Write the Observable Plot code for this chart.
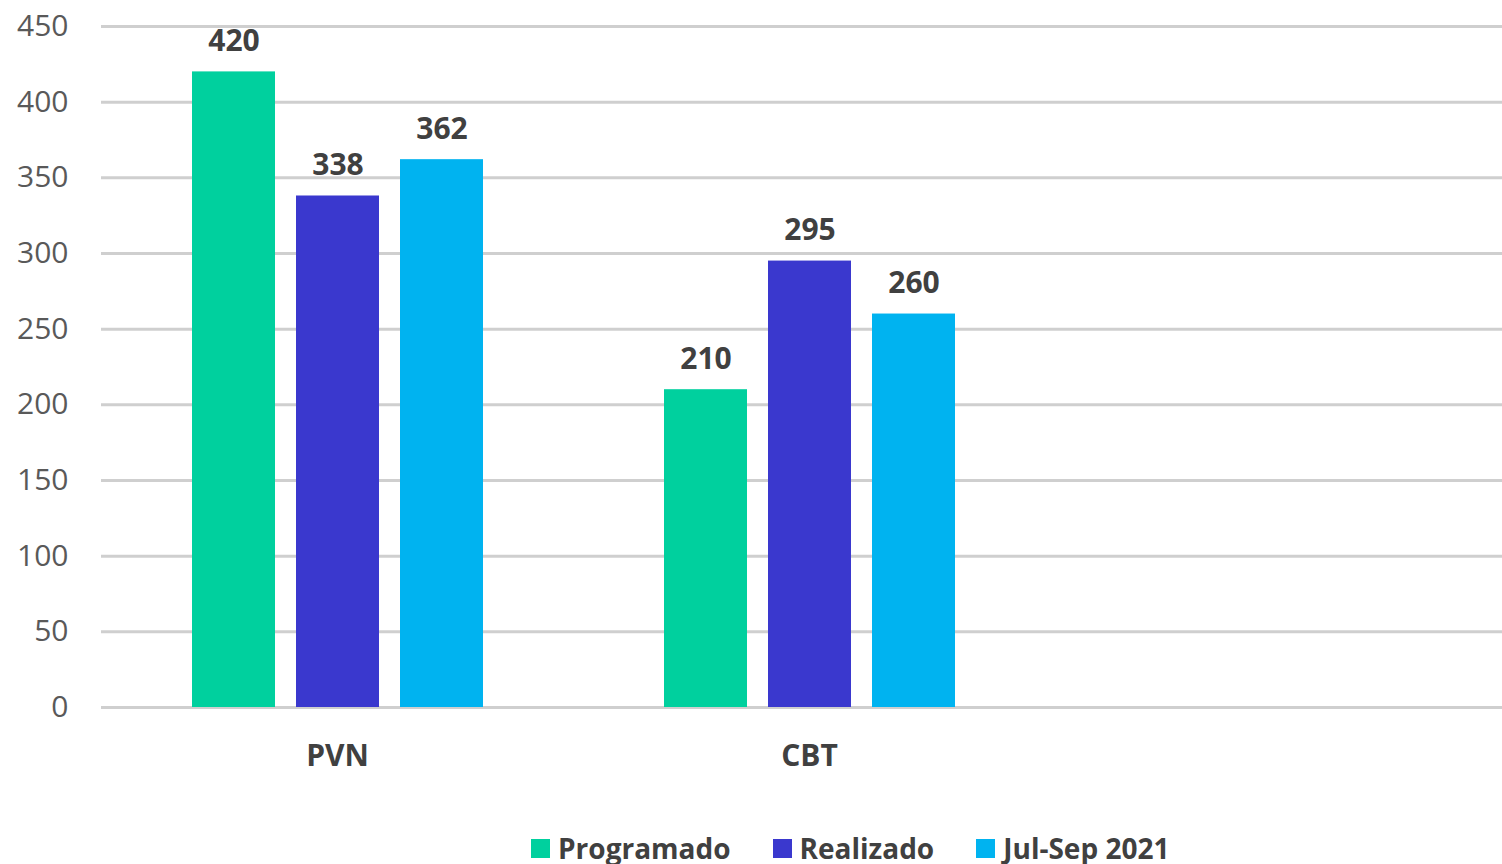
<!DOCTYPE html>
<html>
<head>
<meta charset="utf-8">
<script src="https://cdn.jsdelivr.net/npm/d3@7"></script>
<script src="https://cdn.jsdelivr.net/npm/@observablehq/plot@0.6"></script>
<style>
  html, body { margin: 0; padding: 0; background: #fff; overflow: hidden; width: 1502px; height: 864px; }
  #chart svg { overflow: hidden; }
  #legend { display: flex; align-items: center; margin-left: 531px; margin-top: 28px; font-family: "Open Sans", sans-serif; font-weight: bold; font-size: 28px; color: #404040; line-height: 40px; }
  #legend .item { display: flex; align-items: center; margin-right: 42px; }
  #legend .sw { width: 19px; height: 19px; margin-right: 8px; }
</style>
</head>
<body>
<div id="chart"></div>
<div id="legend"></div>
<script>
const categories = ["PVN", "CBT", " "];
const series = ["Programado", "Realizado", "Jul-Sep 2021"];
const programado = [420, 210];
const realizado = [338, 295];
const julSep2021 = [362, 260];
const colors = ["#00D09E", "#3A38CE", "#00B3F0"];
const yTicks = [0, 50, 100, 150, 200, 250, 300, 350, 400, 450];

const seriesValues = [programado, realizado, julSep2021];
const data = [];
series.forEach((s, si) => {
  seriesValues[si].forEach((v, ci) => data.push({cat: categories[ci], series: s, value: v}));
});
const gridData = [];
categories.forEach(c => yTicks.forEach(t => gridData.push({cat: c, y: t})));

const font = "'Open Sans', sans-serif";
const chart = Plot.plot({
  width: 1502,
  height: 800,
  marginTop: 26,
  marginBottom: 93,
  marginLeft: 101,
  marginRight: 0,
  style: {fontFamily: font, background: "#fff"},
  fx: {domain: categories, range: [101, 1517], paddingInner: 0, paddingOuter: 0, label: null},
  x: {domain: series, paddingInner: 0.206, paddingOuter: 0.861, axis: null},
  y: {domain: [0, 450], ticks: yTicks, label: null},
  color: {domain: series, range: colors},
  marks: [
    Plot.ruleY(gridData, {fx: "cat", y: "y", stroke: "#cfcfcf", strokeWidth: 3}),
    Plot.axisY(yTicks, {tickSize: 0, tickPadding: 33, fontSize: 30, fill: "#595959", label: null}),
    Plot.axisFx({anchor: "bottom", tickSize: 0, tickPadding: 37, fontSize: 30, fontWeight: "bold", fill: "#404040", label: null}),
    Plot.barY(data, {fx: "cat", x: "series", y: "value", fill: "series"}),
    Plot.text(data, {fx: "cat", x: "series", y: "value", text: d => String(d.value), lineAnchor: "bottom", dy: -21, fontSize: 30, fontWeight: "bold", fill: "#404040"})
  ]
});
document.getElementById("chart").appendChild(chart);

const legend = document.getElementById("legend");
series.forEach((s, i) => {
  const item = document.createElement("div");
  item.className = "item";
  const sw = document.createElement("div");
  sw.className = "sw";
  sw.style.background = colors[i];
  const label = document.createElement("span");
  label.textContent = s;
  item.appendChild(sw);
  item.appendChild(label);
  legend.appendChild(item);
});
</script>
</body>
</html>
